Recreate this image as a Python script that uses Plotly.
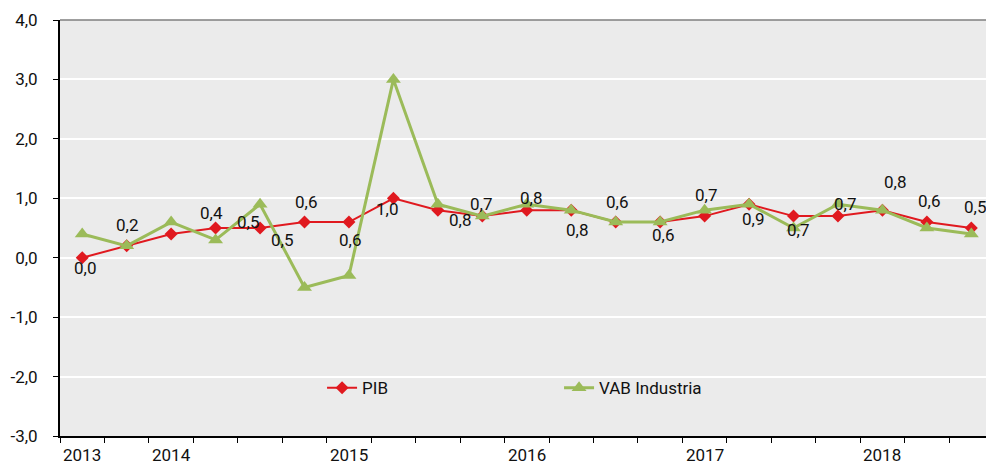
import plotly.graph_objects as go

quarters = ["III-13", "IV-13", "I-14", "II-14", "III-14", "IV-14", "I-15", "II-15", "III-15", "IV-15",
            "I-16", "II-16", "III-16", "IV-16", "I-17", "II-17", "III-17", "IV-17", "I-18", "II-18", "III-18"]
pib = [0.0, 0.2, 0.4, 0.5, 0.5, 0.6, 0.6, 1.0, 0.8, 0.7, 0.8, 0.8, 0.6, 0.6, 0.7, 0.9, 0.7, 0.7, 0.8, 0.6, 0.5]
vab = [0.4, 0.2, 0.6, 0.3, 0.9, -0.5, -0.3, 3.0, 0.9, 0.7, 0.9, 0.8, 0.6, 0.6, 0.8, 0.9, 0.5, 0.9, 0.8, 0.5, 0.4]
year_labels = ["2013", "2014", "2015", "2016", "2017", "2018"]
year_index = [0, 2, 6, 10, 14, 18]
y_ticks = [-3, -2, -1, 0, 1, 2, 3, 4]
y_tick_labels = ["-3,0", "-2,0", "-1,0", "0,0", "1,0", "2,0", "3,0", "4,0"]

# label placement offsets (pixels) for PIB data labels, as laid out in the original
label_dx = [3, 0, 40, 32, 22, 1, 1, -6, 22, -1, 4, 6, 1, 3, 1, 4, 4, 7, 13, 2, 4]
label_dy = [10, -21, -21, -6, 12, -20, 18, 11, 10, -12, -12, 20, -20, 13, -21, 15, 14, -12, -28, -21, -21]

x = list(range(len(quarters)))
FONT = "Roboto"
RED = "#E0191F"
GREEN = "#9BBB59"
TXT = "#111111"

fig = go.Figure()
fig.add_trace(go.Scatter(x=x, y=pib, name="PIB", mode="lines+markers",
                         line=dict(color=RED, width=2),
                         marker=dict(symbol="diamond", size=10, color=RED),
                         customdata=quarters, hovertemplate="%{customdata}: %{y}<extra>PIB</extra>"))
fig.add_trace(go.Scatter(x=x, y=vab, name="VAB Industria", mode="lines+markers",
                         line=dict(color=GREEN, width=3),
                         marker=dict(symbol="triangle-up", size=13, color=GREEN),
                         customdata=quarters, hovertemplate="%{customdata}: %{y}<extra>VAB Industria</extra>"))

annotations = []
for i, v in enumerate(pib):
    annotations.append(dict(x=i, y=v, xref="x", yref="y", text=f"{v:.1f}".replace(".", ","),
                            showarrow=False, xshift=label_dx[i], yshift=-label_dy[i],
                            xanchor="center", yanchor="middle",
                            font=dict(family=FONT, size=17, color=TXT)))
for lab, idx in zip(year_labels, year_index):
    annotations.append(dict(x=idx, y=0, xref="x", yref="paper", text=lab, showarrow=False,
                            xanchor="center", yanchor="middle", yshift=-19,
                            font=dict(family=FONT, size=17, color=TXT)))

fig.update_layout(
    width=986, height=466,
    margin=dict(l=60, r=0, t=20, b=30),
    paper_bgcolor="white", plot_bgcolor="#EBEBEB",
    separators=",.",
    font=dict(family=FONT, size=17, color=TXT),
    showlegend=True,
    legend=dict(orientation="h", x=0.283, y=0.115, xanchor="left", yanchor="middle",
                bgcolor="rgba(0,0,0,0)", entrywidth=192, entrywidthmode="pixels",
                font=dict(family=FONT, size=17, color=TXT)),
    annotations=annotations,
    shapes=[dict(type="line", xref="paper", yref="paper", x0=0, x1=1, y0=1, y1=1,
                 line=dict(color="#7f7f7f", width=1.5))],
    xaxis=dict(range=[-0.5, 20.33], showgrid=False, zeroline=False,
               tickmode="array", tickvals=[i - 0.5 for i in range(len(quarters) + 1)],
               ticktext=["" for _ in range(len(quarters) + 1)],
               ticks="outside", ticklen=5, tickcolor="black", tickwidth=1,
               showline=True, linecolor="black", linewidth=1.5),
    yaxis=dict(range=[-3, 4], tickmode="array", tickvals=y_ticks, ticktext=y_tick_labels,
               showgrid=True, gridcolor="white", gridwidth=1.5, zeroline=False,
               ticks="outside", ticklen=5, tickcolor="black", tickwidth=1,
               showline=True, linecolor="black", linewidth=2,
               ticklabelstandoff=12,
               tickfont=dict(family=FONT, size=17, color=TXT)),
)

fig.write_html("out.html", config={"displayModeBar": False},
               post_script="document.body.style.margin='0';document.body.style.overflow='hidden';")
